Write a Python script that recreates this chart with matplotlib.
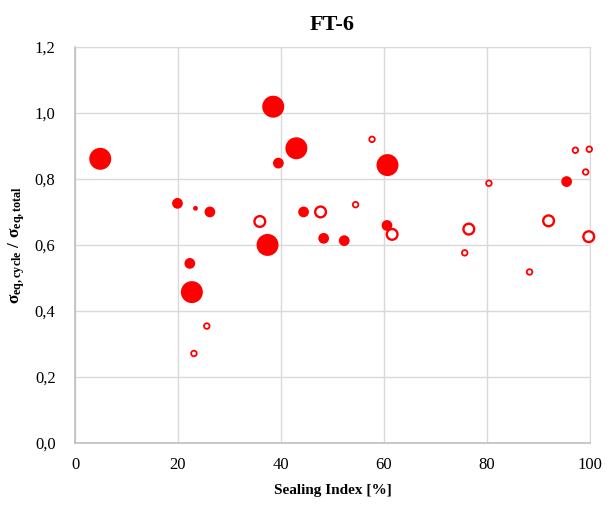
import matplotlib.pyplot as plt
from matplotlib.ticker import FuncFormatter

# Punti pieni (x = sealing index, y = rapporto tensioni, s = dimensione)
filled_x = [4.9, 38.5, 43.0, 39.5, 19.9, 23.4, 26.2, 44.4, 48.3, 37.4,
            60.7, 52.3, 60.6, 95.5, 22.3, 22.7]
filled_y = [0.861, 1.019, 0.893, 0.848, 0.726, 0.711, 0.700, 0.700, 0.620, 0.600,
            0.842, 0.613, 0.659, 0.792, 0.544, 0.457]
filled_s = [250, 250, 250, 60, 60, 12, 60, 60, 60, 250,
            250, 60, 60, 60, 60, 250]

# Punti vuoti
open_x = [35.9, 47.7, 57.7, 54.5, 61.6, 76.5, 80.4, 92.0, 97.2, 99.9,
          99.2, 99.8, 25.6, 23.1, 75.7, 88.3]
open_y = [0.671, 0.700, 0.920, 0.722, 0.632, 0.648, 0.787, 0.673, 0.887, 0.890,
          0.821, 0.625, 0.354, 0.271, 0.576, 0.518]
open_s = [60, 60, 16, 16, 60, 60, 16, 60, 16, 16,
          16, 60, 16, 16, 16, 16]

x_ticks = [0, 20, 40, 60, 80, 100]
y_ticks = [0.0, 0.2, 0.4, 0.6, 0.8, 1.0, 1.2]

plt.rcParams['font.family'] = ['Liberation Serif', 'DejaVu Serif']
plt.rcParams['mathtext.fontset'] = 'custom'
plt.rcParams['mathtext.rm'] = 'Liberation Serif'
plt.rcParams['mathtext.it'] = 'Liberation Serif:italic'
plt.rcParams['mathtext.bf'] = 'Liberation Serif:bold'

fig = plt.figure(figsize=(6.15, 5.05), dpi=100)
ax = fig.add_axes([0.122, 0.123, 0.837, 0.784])

ax.scatter(filled_x, filled_y, s=filled_s, color='#ff0000', edgecolors='none',
           zorder=3, clip_on=False)
open_lw = [1.7 if s > 30 else 1.3 for s in open_s]
ax.scatter(open_x, open_y, s=open_s, facecolors='white', edgecolors='#ff0000',
           linewidths=open_lw, zorder=3, clip_on=False)

ax.set_xlim(0, 100)
ax.set_ylim(0, 1.2)
ax.set_xticks(x_ticks)
ax.set_yticks(y_ticks)
ax.yaxis.set_major_formatter(FuncFormatter(lambda v, p: f'{v:.1f}'.replace('.', ',')))
ax.grid(True, color='#d9d9d9', linewidth=1)
ax.set_axisbelow(True)
for side in ['top', 'right']:
    ax.spines[side].set_color('#d9d9d9')
for side in ['left', 'bottom']:
    ax.spines[side].set_color('#bfbfbf')
    ax.spines[side].set_linewidth(1.2)
ax.tick_params(length=0, labelsize=12)
ax.tick_params(axis='x', pad=10)
ax.tick_params(axis='y', pad=14)

ax.set_title('FT-6', fontsize=16, fontweight='bold', pad=12)
ax.set_xlabel('Sealing Index [%]', fontsize=11, fontweight='bold', labelpad=8)
ax.set_ylabel(r'$\mathbf{\sigma_{eq,cycle}}$ / $\mathbf{\sigma_{eq,total}}$',
              fontsize=12.5, fontweight='bold', labelpad=6)

fig.savefig('out.png', dpi=100)
